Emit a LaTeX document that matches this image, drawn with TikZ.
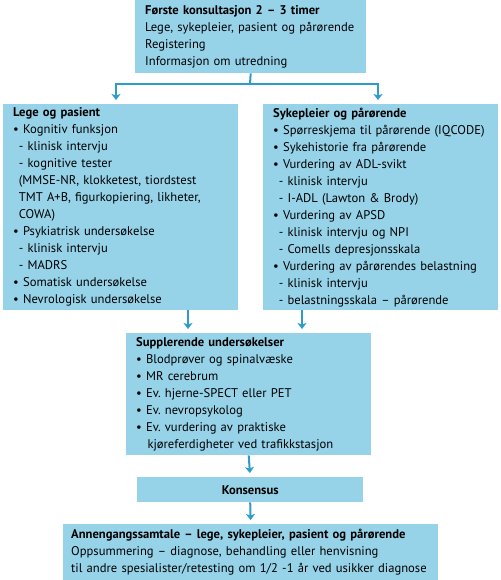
\documentclass[tikz,border=0pt]{standalone}
\usepackage{fontspec}
\setmainfont{PT Sans}
\usetikzlibrary{arrows.meta,calc}
\definecolor{boxblue}{HTML}{96D3E9}
\definecolor{arrblue}{HTML}{2E9CC9}
\newcommand{\sub}{\hspace*{0.45em}}
\frenchspacing
\begin{document}
\begin{tikzpicture}[x=1pt,y=-1pt,
  box/.style={fill=boxblue, draw=none, anchor=north west, inner xsep=10pt, inner ysep=0pt,
    align=left, font=\fontsize{12.6}{17}\selectfont},
  conn/.style={draw=arrblue, line width=2pt},
  arr/.style={conn, -{Stealth[length=6pt,width=9pt,inset=1.5pt]}, shorten >=4pt}]
\useasboundingbox (0,0) rectangle (500,580);

\node[box, minimum width=231pt, minimum height=73pt, text width=211pt] (top) at (135,0)
 {\textbf{Første konsultasjon 2 – 3 timer}\\Lege, sykepleier, pasient og pårørende\\Registering\\Informasjon om utredning};

\node[box, minimum width=235pt, minimum height=206pt, text width=215pt] (lp) at (3,104)
 {\textbf{Lege og pasient}\\
 • Kognitiv funksjon\\
 \sub- klinisk intervju\\
 \sub- kognitive tester\\
 \sub(MMSE-NR, klokketest, tiordstest\\
 \sub TMT A+B, figurkopiering, likheter,\\
 \sub COWA)\\
 • Psykiatrisk undersøkelse\\
 \sub- klinisk intervju\\
 \sub- MADRS\\
 • Somatisk undersøkelse\\
 • Nevrologisk undersøkelse};

\node[box, minimum width=235pt, minimum height=206pt, text width=215pt] (sp) at (263,104)
 {\textbf{Sykepleier og pårørende}\\
 • Spørreskjema til pårørende (IQCODE)\\
 • Sykehistorie fra pårørende\\
 • Vurdering av ADL-svikt\\
 \sub- klinisk intervju\\
 \sub- I-ADL (Lawton \& Brody)\\
 • Vurdering av APSD\\
 \sub- klinisk intervju og NPI\\
 \sub- Comells depresjonsskala\\
 • Vurdering av pårørendes belastning\\
 \sub- klinisk intervju\\
 \sub- belastningsskala – pårørende};

\node[box, minimum width=245pt, minimum height=122pt, text width=225pt] (sup) at (126,333)
 {\textbf{Supplerende undersøkelser}\\
 • Blodprøver og spinalvæske\\
 • MR cerebrum\\
 • Ev. hjerne-SPECT eller PET\\
 • Ev. nevropsykolog\\
 • Ev. vurdering av praktiske\\
 \sub\sub kjøreferdigheter ved trafikkstasjon};

\node[box, minimum width=226pt, minimum height=25pt, text width=206pt, align=center] (kon) at (137,477)
 {\textbf{Konsensus}};

\node[box, minimum width=375pt, minimum height=56pt, text width=359pt, inner xsep=8pt] (ann) at (63,524)
 {\textbf{Annengangssamtale – lege, sykepleier, pasient og pårørende}\\
 Oppsummering – diagnose, behandling eller henvisning\\
 til andre spesialister/retesting om 1/2 -1 år ved usikker diagnose};

\coordinate (j) at (250,84);
\coordinate (aL) at (116,84);
\coordinate (aR) at (378,84);
\coordinate (bL) at (188,0);
\coordinate (bR) at (302,0);

\draw[conn] (top.south) -- (j);
\draw[conn] ([xshift=-1pt]aL) -- ([xshift=1pt]aR);
\draw[arr] (aL) -- (aL |- lp.north);
\draw[arr] (aR) -- (aR |- sp.north);
\draw[arr] (bL |- lp.south) -- (bL |- sup.north);
\draw[arr] (bR |- sp.south) -- (bR |- sup.north);
\draw[arr] (sup.south) -- (kon.north);
\draw[arr] (kon.south) -- (ann.north);
\end{tikzpicture}
\end{document}
